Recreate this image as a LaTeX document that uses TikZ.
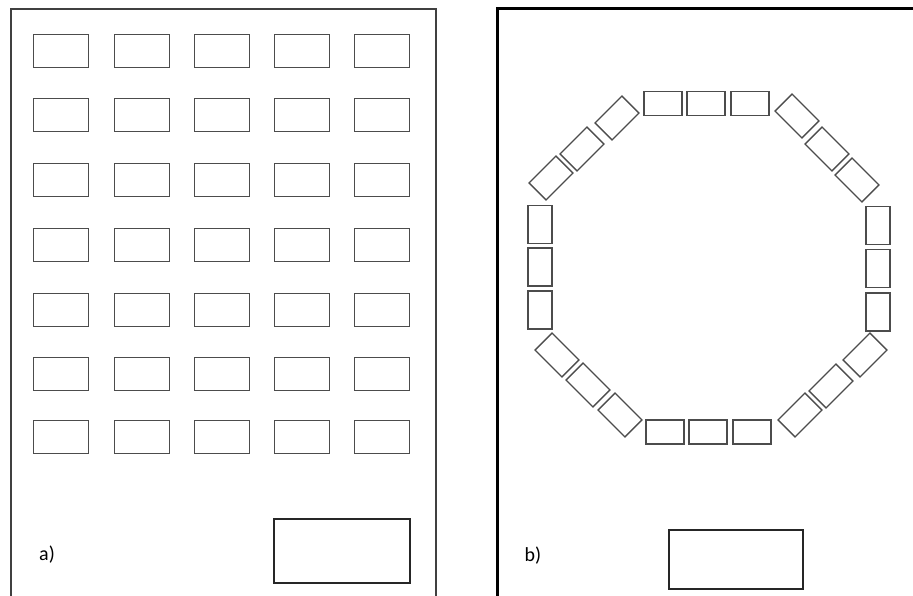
\documentclass[tikz,border=0pt]{standalone}
\usepackage{fontspec}
\setmainfont{Carlito}
\usetikzlibrary{positioning}

\begin{document}
\begin{tikzpicture}[x=1pt, y=-1pt,
  desk/.style={draw=black!70, line width=1.3pt, minimum width=55pt, minimum height=33pt, inner sep=0pt},
  seat/.style={draw=black!70, line width=1.3pt, minimum width=38pt, minimum height=24pt, inner sep=0pt},
  board/.style={draw=black!85, line width=1.3pt, inner sep=0pt},
  tag/.style={font=\fontsize{20}{24}\selectfont, inner sep=0pt}
]

\useasboundingbox (0,0) rectangle (913,596);

% a) rows facing the front
\draw[line width=2pt, black!75] (11,596) -- (11,9) -- (436,9) -- (436,596);
\foreach \c/\x in {1/61,2/142,3/222,4/302,5/382}
  \foreach \r/\y in {1/51,2/115,3/180,4/245,5/310,6/374,7/437}
    \node[desk] (d\r\c) at (\x,\y) {};
\node[board, minimum width=136pt, minimum height=64pt] (tdeska) at (342,551) {};
\node[tag] (laba) at (47,555) {a)};

% b) ring of desks
\draw[line width=3pt, black] (497,596) -- (497,9) -- (913,9);
\foreach \n/\x/\y/\a in {
    1/663/103.5/0, 2/706/103.5/0, 3/750/103.5/0,
    4/797/116/-45, 5/827/149/-45, 6/857/180/-45,
    7/878/225.5/90, 8/878/268.5/90, 9/878/312/90,
    10/865/355/45, 11/831/386/45, 12/800/415/45,
    13/752/432/0, 14/708/432/0, 15/665/432/0,
    16/620/415/-45, 17/588/385/-45, 18/557/355/-45,
    19/540/310/90, 20/540/267/90, 21/540/224.5/90,
    22/551/178/45, 23/582/149/45, 24/617/118/45}
  \node[seat, rotate=\a] (s\n) at (\x,\y) {};
\node[board, minimum width=134pt, minimum height=59pt] (tdeskb) at (736,559.5) {};
\node[tag] (labb) at (533,556) {b)};

\end{tikzpicture}
\end{document}
